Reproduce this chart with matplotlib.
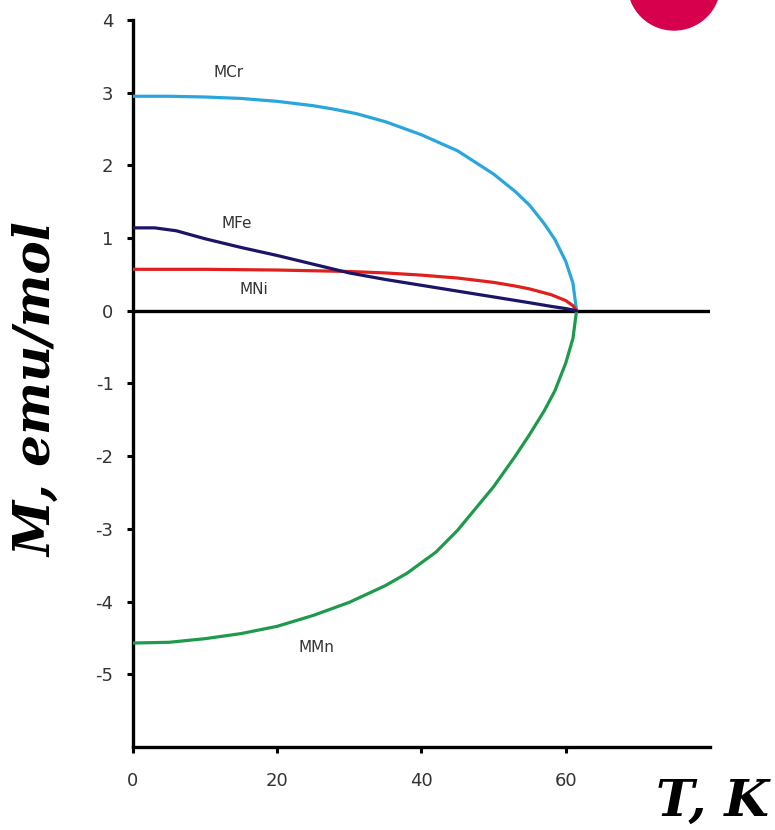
import numpy as np
import matplotlib
matplotlib.use("Agg")
import matplotlib.pyplot as plt
from matplotlib.patches import Circle

plt.rcParams["axes.unicode_minus"] = False

# magnetisation curves M(T), emu/mol
t_cr = [0, 5, 10, 15, 20, 25, 28, 31, 35, 40, 45, 50, 53, 55, 57, 58.5, 60, 61, 61.5]
m_cr = [2.95, 2.95, 2.94, 2.92, 2.88, 2.82, 2.77, 2.71, 2.60, 2.42, 2.20, 1.88, 1.64, 1.45, 1.20, 0.98, 0.68, 0.38, 0.0]

t_fe = [0, 3, 6, 10, 15, 20, 25, 30, 35, 40, 45, 50, 55, 58, 60, 61.5]
m_fe = [1.14, 1.14, 1.10, 0.99, 0.87, 0.76, 0.64, 0.52, 0.43, 0.35, 0.27, 0.19, 0.11, 0.06, 0.03, 0.0]

t_ni = [0, 10, 20, 30, 35, 40, 45, 50, 53, 55, 58, 60, 61, 61.5]
m_ni = [0.57, 0.57, 0.56, 0.54, 0.52, 0.49, 0.45, 0.39, 0.34, 0.30, 0.22, 0.14, 0.07, 0.0]

t_mn = [0, 5, 10, 15, 20, 25, 30, 35, 38, 42, 45, 50, 53, 55, 57, 58.5, 60, 61, 61.5]
m_mn = [-4.57, -4.56, -4.51, -4.44, -4.34, -4.19, -4.01, -3.78, -3.61, -3.32, -3.02, -2.42, -2.00, -1.70, -1.38, -1.10, -0.72, -0.38, 0.0]

x_ticks = [0, 20, 40, 60]
y_ticks = [-5, -4, -3, -2, -1, 0, 1, 2, 3, 4]

fig = plt.figure(figsize=(7.75, 8.3), dpi=100)
ax = fig.add_axes([0.1716, 0.10, 0.7445, 0.876])

ax.plot([0, 80], [0, 0], color="black", lw=2.4, zorder=1)
style = dict(lw=2.3, solid_joinstyle="round", solid_capstyle="round")
ax.plot(t_cr, m_cr, color="#2ba6dc", zorder=3, **style)
ax.plot(t_ni, m_ni, color="#e0201c", zorder=3, **style)
ax.plot(t_fe, m_fe, color="#1c1466", zorder=4, **style)
ax.plot(t_mn, m_mn, color="#1f9a4c", zorder=3, **style)

lbl = dict(fontsize=11, color="#333333", ha="center", va="center")
ax.text(13.2, 3.28, "MCr", **lbl)
ax.text(14.4, 1.20, "MFe", **lbl)
ax.text(16.8, 0.29, "MNi", **lbl)
ax.text(25.5, -4.63, "MMn", **lbl)

ax.set_xlim(0, 80)
ax.set_ylim(-6, 4)
ax.set_xticks(x_ticks)
ax.set_yticks(y_ticks)
ax.tick_params(axis="both", direction="out", length=4, width=2.2,
               labelsize=13, labelcolor="#333333")
ax.tick_params(axis="x", pad=14)
ax.tick_params(axis="y", pad=10)
for side in ("top", "right"):
    ax.spines[side].set_visible(False)
for side in ("left", "bottom"):
    ax.spines[side].set_linewidth(2.4)

axis_font = dict(fontfamily="DejaVu Serif", fontweight="bold",
                 fontstyle="italic", ha="center", va="center")
fig.text(0.048, 0.530, "M, emu/mol", fontsize=36, rotation=90, **axis_font)
fig.text(0.919, 0.033, "T, K", fontsize=37, **axis_font)

# pink badge in the top right corner
fig.patches.append(Circle((674, 830 + 16), 46, transform=None,
                          color="#d6004c", zorder=10))

fig.savefig("out.png", dpi=100)
